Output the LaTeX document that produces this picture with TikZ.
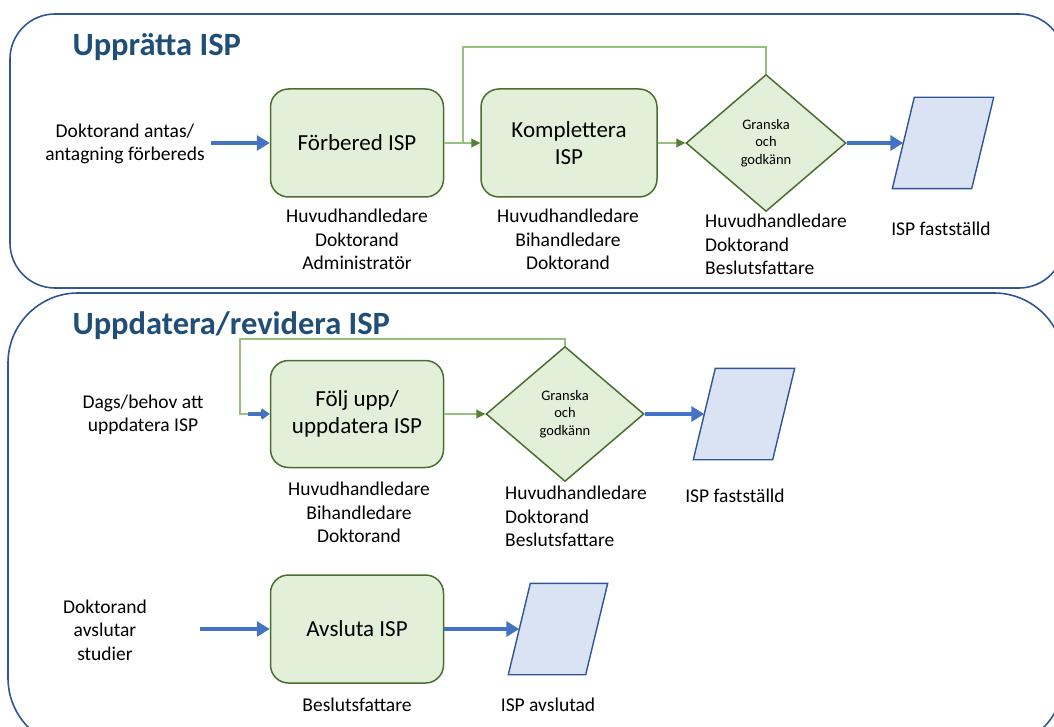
\documentclass[tikz,border=0pt]{standalone}
\usepackage{fontspec}
\setmainfont{Carlito}
\usepackage{tikz}
\usetikzlibrary{arrows.meta,shapes.geometric}

\definecolor{framecol}{RGB}{47,85,151}
\definecolor{titlecol}{RGB}{31,78,121}
\definecolor{boxfill}{RGB}{226,240,217}
\definecolor{boxline}{RGB}{74,110,46}
\definecolor{grnline}{RGB}{150,192,125}
\definecolor{grnhead}{RGB}{84,130,53}
\definecolor{bluearr}{RGB}{68,114,196}
\definecolor{ispfill}{RGB}{218,227,243}

\begin{document}
\begin{tikzpicture}[x=1pt,y=-1pt,
    frame/.style={draw=framecol,line width=1.6pt},
    title/.style={text=titlecol,font=\fontsize{32.5}{38}\selectfont\bfseries,anchor=west},
    task/.style={draw=boxline,fill=boxfill,line width=1.5pt,rounded corners=18pt,
      minimum width=173pt,minimum height=108pt,align=center,
      font=\fontsize{23}{27}\selectfont},
    review/.style={diamond,draw=boxline,fill=boxfill,line width=1.5pt,
      minimum width=160pt,minimum height=137pt,inner sep=0pt,align=center,
      font=\fontsize{14.5}{17.5}\selectfont},
    doc/.style={minimum width=101pt,minimum height=91pt,inner sep=0pt},
    docline/.style={draw=framecol,fill=ispfill,line width=1.4pt},
    lbl/.style={align=center,inner sep=0pt,font=\fontsize{19.5}{23.5}\selectfont},
    flow/.style={draw=bluearr,line width=4.5pt,-{Triangle[length=13pt,width=15pt]}},
    loopline/.style={draw=grnline,line width=1.1pt},
    looparrow/.style={draw=grnline,line width=1.1pt,-{Triangle[length=9pt,width=9pt,color=grnhead]}}]

            \clip (0,0) rectangle (1054,727);

            % Define the two frames
            \draw[frame,rounded corners=45pt] (10,14) rectangle (1064,288);
            \draw[frame,rounded corners=70pt] (8,293) rectangle (1064,748);
            \node[title] (t1) at (69,47) {Upprätta ISP};
            \node[title] (t2) at (69,326) {Uppdatera/revidera ISP};

            % Define the first flow (upprätta)
            \node[lbl] (start1) at (125,144) {Doktorand antas/\\antagning förbereds};
            \coordinate (in1) at (211,143);
            \node[task] (prep) at (357,143) {Förbered ISP};
            \node[task,minimum width=176pt] (compl) at (569,143) {Komplettera\\ISP};
            \node[review] (check1) at (766,143) {Granska\\och\\godkänn};
            \node[doc] (isp1) at (943,143) {};
            \node[lbl,anchor=north] (who1) at (357,209) {Huvudhandledare\\Doktorand\\Administratör};
            \node[lbl,anchor=north] (who2) at (568,209) {Huvudhandledare\\Bihandledare\\Doktorand};
            \node[lbl,anchor=north west,align=left] (who3) at (705,214) {Huvudhandledare\\Doktorand\\Beslutsfattare};
            \node[lbl] (done1) at (941,229) {ISP fastställd};

            % Define the second flow (uppdatera)
            \node[lbl] (start2) at (143,415) {Dags/behov att\\uppdatera ISP};
            \coordinate (in2) at (248,414);
            \node[task,minimum height=107pt] (follow) at (357,414) {Följ upp/\\uppdatera ISP};
            \node[review,minimum width=158pt,minimum height=135pt] (check2) at (565,414) {Granska\\och\\godkänn};
            \node[doc] (isp2) at (744,414) {};
            \node[lbl,anchor=north] (who4) at (359,482) {Huvudhandledare\\Bihandledare\\Doktorand};
            \node[lbl,anchor=north west,align=left] (who5) at (505,486) {Huvudhandledare\\Doktorand\\Beslutsfattare};
            \node[lbl] (done2) at (735,496) {ISP fastställd};

            % Define the third flow (avsluta)
            \node[lbl] (start3) at (105,630) {Doktorand\\avslutar\\studier};
            \coordinate (in3) at (200,629);
            \node[task] (close) at (357,629) {Avsluta ISP};
            \node[doc,minimum width=99pt] (isp3) at (558,629) {};
            \node[lbl] (who6) at (357,705) {Beslutsfattare};
            \node[lbl] (done3) at (548,705) {ISP avslutad};

            % Draw the ISP documents (slanted boxes)
            \foreach \d in {isp1,isp2,isp3} {
              \draw[docline] ([xshift=22pt]\d.north west) -- (\d.north east)
                -- ([xshift=-22pt]\d.south east) -- (\d.south west) -- cycle;
              \coordinate (\d in) at ([xshift=11pt]\d.west);
            }

            % Connect the first flow
            \draw[flow] (in1) -- (prep);
            \draw[looparrow] (prep) -- (compl);
            \draw[looparrow] (compl) -- (check1);
            \draw[flow] (check1) -- (isp1in);
            \coordinate (top1) at (463,47);
            \coordinate (join1) at (463,143);
            \draw[loopline] (check1.north) |- (top1) -- (join1);

            % Connect the second flow
            \coordinate (top2) at (240,339);
            \draw[looparrow] (check2.north) |- (top2) |- (follow.west);
            \draw[flow,line width=3.5pt,-{Triangle[length=8pt,width=11pt]}] (in2) -- (follow.west);
            \draw[looparrow] (follow) -- (check2);
            \draw[flow] (check2) -- (isp2in);

            % Connect the third flow
            \draw[flow] (in3) -- (close);
            \draw[flow] (close) -- (isp3in);

        \end{tikzpicture}
\end{document}
